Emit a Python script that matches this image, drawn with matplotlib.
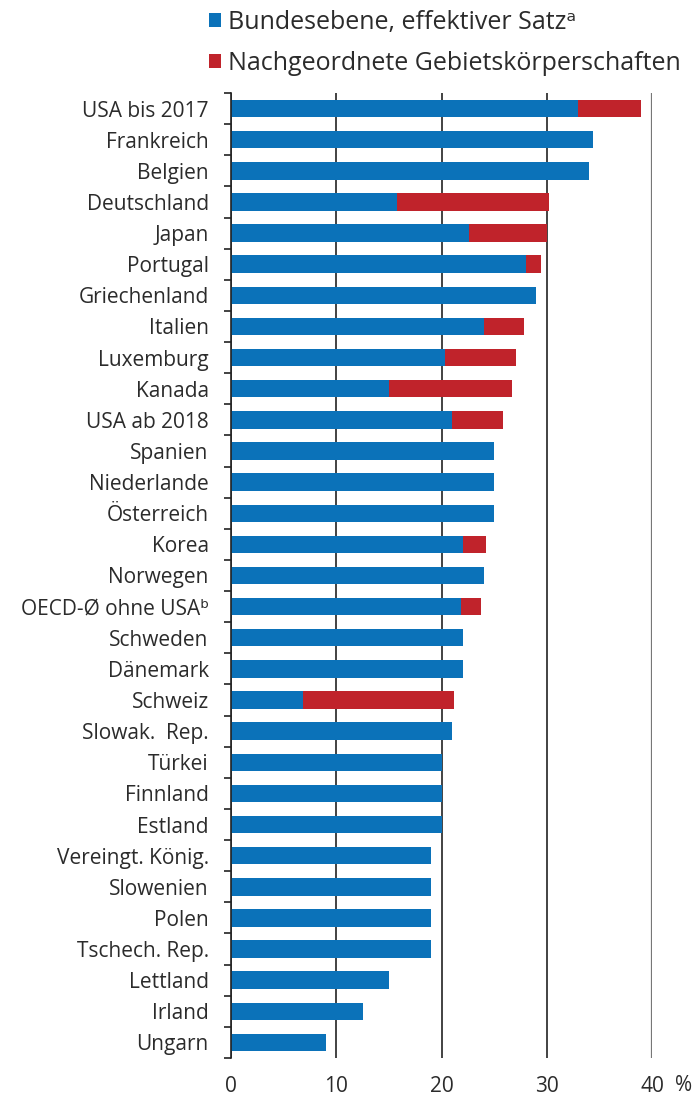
import matplotlib.pyplot as plt
import numpy as np

plt.rcParams['font.family'] = ['Open Sans', 'DejaVu Sans']

laender = ['USA bis 2017', 'Frankreich', 'Belgien', 'Deutschland', 'Japan',
           'Portugal', 'Griechenland', 'Italien', 'Luxemburg', 'Kanada',
           'USA ab 2018', 'Spanien', 'Niederlande', 'Österreich', 'Korea',
           'Norwegen', 'OECD-Ø ohne USAᵇ', 'Schweden', 'Dänemark', 'Schweiz',
           'Slowak.  Rep.', 'Türkei', 'Finnland', 'Estland', 'Vereingt. König.',
           'Slowenien', 'Polen', 'Tschech. Rep.', 'Lettland', 'Irland', 'Ungarn']

# Bundesebene, effektiver Satz
bund = [33.0, 34.4, 34.0, 15.8, 22.6, 28.0, 29.0, 24.0, 20.3, 15.0,
        21.0, 25.0, 25.0, 25.0, 22.0, 24.0, 21.9, 22.0, 22.0, 6.8,
        21.0, 20.0, 20.0, 20.0, 19.0, 19.0, 19.0, 19.0, 15.0, 12.5, 9.0]

# Nachgeordnete Gebietskoerperschaften
lokal = [6.0, 0, 0, 14.4, 7.4, 1.5, 0, 3.8, 6.8, 11.7,
         4.8, 0, 0, 0, 2.2, 0, 1.9, 0, 0, 14.4,
         0, 0, 0, 0, 0, 0, 0, 0, 0, 0, 0]

blau = '#0b72b9'
rot = '#c0232b'
textfarbe = '#2b2b2b'

fig = plt.figure(figsize=(6.96, 11.02), dpi=100)
ax = fig.add_axes([231/696, 1 - 1058/1102, (652 - 231)/696, (1058 - 93)/1102])

y = np.arange(len(laender))
b1 = ax.barh(y, bund, height=0.56, color=blau, zorder=3,
             label='Bundesebene, effektiver Satzᵃ')
b2 = ax.barh(y, lokal, left=bund, height=0.56, color=rot, zorder=3,
             label='Nachgeordnete Gebietskörperschaften')

ax.set_ylim(len(laender) - 0.5, -0.5)
ax.set_xlim(0, 40)

ax.set_yticks(y)
ax.set_yticklabels(laender, fontsize=15, color=textfarbe)
ax.set_yticks(np.arange(-0.5, len(laender)), minor=True)
ax.tick_params(axis='y', which='major', length=0, pad=16)
ax.tick_params(axis='y', which='minor', length=5, width=1.2, color='#222222')

ax.set_xticks([0, 10, 20, 30, 40])
ax.set_xticklabels(['0', '10', '20', '30', '40'], fontsize=15, color=textfarbe)
ax.tick_params(axis='x', length=0, pad=13)
ax.text(1.074, -0.028, '%', transform=ax.transAxes, fontsize=15,
        color=textfarbe, ha='center', va='center')

ax.grid(axis='x', color='#222222', linewidth=1.2, zorder=0)
ax.xaxis.get_gridlines()[-1].set_color('#777777')
ax.xaxis.get_gridlines()[-1].set_linewidth(1.6)

for s in ['top', 'right', 'bottom']:
    ax.spines[s].set_visible(False)
ax.spines['left'].set_linewidth(1.2)
ax.spines['left'].set_color('#222222')
ax.spines['left'].set_zorder(4)

leg = fig.legend(handles=[b1, b2], loc='upper left',
                 bbox_to_anchor=(209/696, 1 - 10/1102), frameon=False,
                 fontsize=18, handlelength=0.48, handleheight=0.48,
                 handletextpad=0.3, labelspacing=0.65, borderaxespad=0,
                 borderpad=0)
for t in leg.get_texts():
    t.set_color(textfarbe)

fig.savefig('out.png', dpi=100)
